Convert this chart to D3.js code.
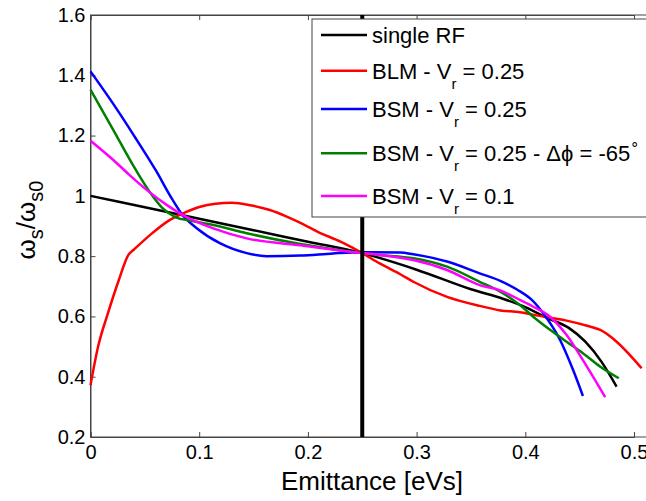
<!DOCTYPE html>
<html><head><meta charset="utf-8">
<script src="https://cdn.jsdelivr.net/npm/d3@7"></script>
<style>body{margin:0;background:#fff}svg{display:block;font-family:"Liberation Sans",Arial,sans-serif}</style>
</head><body><svg id="c" width="646" height="501"></svg>
<script>
const xTicks=[0,0.1,0.2,0.3,0.4,0.5];
const yTicks=[0.2,0.4,0.6,0.8,1.0,1.2,1.4,1.6];
const markerX=0.25;

const singleX=[0,0.05,0.1,0.15,0.2,0.25,0.3,0.35,0.38,0.4,0.42,0.44,0.455,0.47,0.484];
const singleY=[1.0,0.962,0.924,0.886,0.848,0.81,0.755,0.69,0.658,0.631,0.595,0.562,0.517,0.45,0.367];

const blmX=[0,0.007,0.016,0.026,0.035,0.04,0.056,0.072,0.087,0.1,0.115,0.13,0.147,0.165,0.18,0.195,0.21,0.23,0.25,0.266,0.285,0.297,0.328,0.358,0.377,0.395,0.407,0.438,0.456,0.46,0.469,0.484,0.499,0.507];
const blmY=[0.372,0.50,0.61,0.72,0.805,0.822,0.874,0.918,0.945,0.963,0.974,0.977,0.969,0.953,0.932,0.907,0.879,0.848,0.81,0.776,0.74,0.715,0.665,0.635,0.62,0.614,0.606,0.586,0.570,0.566,0.555,0.516,0.461,0.428];

const bsmX=[0,0.02,0.04,0.06,0.075,0.085,0.098,0.119,0.1437,0.162,0.193,0.223,0.25,0.285,0.297,0.328,0.358,0.377,0.392,0.405,0.4166,0.432,0.444,0.453];
const bsmY=[1.413,1.31,1.2,1.085,0.99,0.935,0.892,0.843,0.81,0.80,0.802,0.809,0.813,0.812,0.806,0.782,0.743,0.718,0.69,0.658,0.61,0.522,0.422,0.336];

const bsmPhX=[0,0.02,0.041,0.055,0.066,0.079,0.0915,0.113,0.1437,0.193,0.25,0.266,0.297,0.328,0.358,0.377,0.395,0.407,0.423,0.438,0.453,0.469,0.486];
const bsmPhY=[1.352,1.225,1.09,1.01,0.96,0.928,0.918,0.903,0.876,0.84,0.81,0.804,0.793,0.765,0.715,0.682,0.638,0.60,0.555,0.516,0.478,0.433,0.395];

const bsm01X=[0,0.021,0.036,0.052,0.07,0.085,0.113,0.1437,0.193,0.25,0.266,0.297,0.328,0.358,0.377,0.395,0.407,0.423,0.438,0.453,0.4735];
const bsm01Y=[1.183,1.119,1.069,1.019,0.97,0.936,0.892,0.859,0.836,0.81,0.804,0.787,0.754,0.704,0.686,0.655,0.633,0.598,0.538,0.455,0.332];

const seriesColors=["#000000","#ff0000","#0000ff","#008000","#ff00ff"];

const svg=d3.select("#c");
const L=90.5,T=15,B=437;
const x=d3.scaleLinear().domain([0,0.5]).range([L,634]);
const y=d3.scaleLinear().domain([0.2,1.6]).range([B,T]);
const axisCol="#444";

svg.append("rect").attr("x",L).attr("y",T).attr("width",x(0.52)-L).attr("height",B-T)
  .attr("fill","none").attr("stroke",axisCol).attr("stroke-width",1);

const fx=d=>d===0?"0":d3.format(".1f")(d);
const fy=d=>d===1?"1":d3.format(".1f")(d);
const gb=svg.append("g").attr("transform",`translate(0,${B})`)
  .call(d3.axisBottom(x).tickValues(xTicks).tickFormat(fx).tickSize(-5).tickPadding(8));
const gt=svg.append("g").attr("transform",`translate(0,${T})`)
  .call(d3.axisTop(x).tickValues(xTicks).tickFormat("").tickSize(-5));
const gl=svg.append("g").attr("transform",`translate(${L},0)`)
  .call(d3.axisLeft(y).tickValues(yTicks).tickFormat(fy).tickSize(-5).tickPadding(5));
[gb,gt,gl].forEach(g=>{
  g.select(".domain").attr("stroke",axisCol);
  g.selectAll(".tick line").attr("stroke",axisCol);
  g.selectAll("text").attr("fill","#000").attr("font-size",20).attr("font-family","Liberation Sans, Arial, sans-serif");
});

const data=[[singleX,singleY],[blmX,blmY],[bsmX,bsmY],[bsmPhX,bsmPhY],[bsm01X,bsm01Y]];
const line=d3.line().x(d=>x(d[0])).y(d=>y(d[1])).curve(d3.curveMonotoneX);
data.forEach((s,i)=>{
  const pts=s[0].map((v,k)=>[v,s[1][k]]);
  svg.append("path").datum(pts).attr("d",line).attr("fill","none")
    .attr("stroke",seriesColors[i]).attr("stroke-width",2.5).attr("stroke-linejoin","round");
});

svg.append("line").attr("x1",x(markerX)).attr("x2",x(markerX)).attr("y1",y(1.6)).attr("y2",y(0.2))
  .attr("stroke","#000").attr("stroke-width",4);

const lg=svg.append("g");
lg.append("rect").attr("x",312).attr("y",19).attr("width",400).attr("height",198)
  .attr("fill","#fff").attr("stroke",axisCol).attr("stroke-width",1);
const rowsY=[35,70.7,109,153.3,196];
const fs=22;
rowsY.forEach((ry,i)=>{
  lg.append("line").attr("x1",321).attr("x2",367).attr("y1",ry).attr("y2",ry)
    .attr("stroke",seriesColors[i]).attr("stroke-width",2.5);
});
function addText(i,parts){
  const t=lg.append("text").attr("x",372).attr("y",rowsY[i]+8).attr("font-size",fs).attr("fill","#000");
  parts.forEach(p=>{
    const s=t.append("tspan").text(p.t);
    if(p.sub){s.attr("font-size",15).attr("dy",10);}
    if(p.back){s.attr("dy",-10);}
    if(p.sup){s.attr("font-size",15).attr("dy",-12);}
  });
}
addText(0,[{t:"single RF"}]);
addText(1,[{t:"BLM - V"},{t:"r",sub:true},{t:" = 0.25",back:true}]);
addText(2,[{t:"BSM - V"},{t:"r",sub:true},{t:" = 0.25",back:true}]);
addText(3,[{t:"BSM - V"},{t:"r",sub:true},{t:" = 0.25 - Δϕ = -65",back:true},{t:"∘",sup:true}]);
addText(4,[{t:"BSM - V"},{t:"r",sub:true},{t:" = 0.1",back:true}]);

svg.append("text").attr("x",372).attr("y",490).attr("text-anchor","middle").attr("font-size",26).text("Emittance [eVs]");
const yl=svg.append("text").attr("transform","translate(35,220) rotate(-90)").attr("text-anchor","middle").attr("font-size",26);
yl.append("tspan").text("ω");
yl.append("tspan").text("s").attr("font-size",20).attr("dy",8);
yl.append("tspan").text("/ω").attr("dy",-8);
yl.append("tspan").text("s0").attr("font-size",20).attr("dy",8);
</script></body></html>
